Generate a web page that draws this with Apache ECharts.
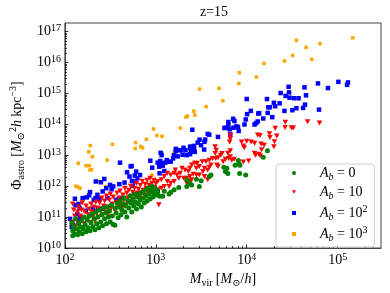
<!DOCTYPE html>
<html><head><meta charset="utf-8">
<script src="https://cdn.jsdelivr.net/npm/echarts@6/dist/echarts.min.js"></script>
<style>html,body{margin:0;padding:0;background:#fff}#c{width:390px;height:293px}</style>
</head><body><div id="c"></div>
<script>
// ---------- data ----------
const seriesNames = ['Ab0', 'Ab10', 'Ab100', 'Ab1000'];

const massAb0 = [1.69e4,1.52e4,8.07e3,8.21e3,7.45e3,8.42e3,6.05e3,6.2e3,5.6e3,5.83e3,8.35e3,9.75e3,4.04e3,3.88e3,3.16e3,2.8e3,2.19e3,2.37e3,3.01e3,2.48e3,2.19e3,1.79e3,1.59e3,1.46e3,1.4e3,1.24e3,1.05e3,1.1e3,1.19e3,
119,122,125,128,131,134,138,141,144,148,122,152,155,159,163,167,171,176,180,185,189,194,199,203,209,214,219,224,230,236,241,247,254,260,266,273,280,287,294,301,309,316,324,332,340,355,357,366,375,385,394,404,414,424,435,446,457,468,480,492,504,517,529,543,556,570,584,598,613,628,644,660,676,693,710,728,746,764,783,803,822,843,864,885,907,930,953,976,1000,1025];
const phiAb0 = [1.39e13,8.6e12,6.8e12,5.3e12,4.71e12,4.71e12,3.78e12,2.55e12,4.07e12,2.96e12,2.55e12,2.3e12,2.3e12,2.05e12,1.5e12,1.68e12,1.6e12,1.25e12,9.8e11,1.1e12,9.8e11,9.1e11,7.6e11,6.42e11,5.54e11,6.8e11,5.97e11,4.68e11,4.68e11,
6.5e10,3.6e10,4.85e10,2.89e10,8.8e10,4.19e10,2.69e10,6.05e10,3.36e10,4.85e10,2.5e10,7.56e10,2.89e10,4.19e10,1.015e11,5.6e10,3.36e10,8.1e10,4.5e10,1.09e11,3.6e10,6.5e10,1.27e11,4.85e10,8.8e10,3.9e10,1.47e11,6.05e10,1.015e11,4.5e10,1.7e11,7.0e10,1.18e11,5.2e10,1.97e11,8.8e10,1.36e11,6.05e10,2.12e11,1.015e11,1.58e11,7.0e10,2.46e11,1.09e11,5.8e10,5.4e10,1.97e11,1.36e11,2.85e11,9.45e10,2.12e11,3.3e11,1.18e11,1.7e11,2.65e11,4.12e11,1.47e11,2.29e11,1.015e11,3.3e11,1.97e11,4.78e11,2.85e11,1.47e11,3.83e11,2.29e11,5.54e11,3.07e11,1.83e11,4.44e11,2.65e11,5.54e11,3.56e11,2.12e11,6.42e11,4.12e11,2.85e11,7.45e11,4.78e11,3.3e11,8.63e11,5.54e11,3.83e11,6.92e11,1.0e12,4.44e11,6.42e11,8.63e11,5.15e11,7.45e11];

const massAb10 = [6.32e4,4.67e4,2.66e4,2.06e4,2.64e4,3.1e4,3.25e4,1.32e4,1.4e4,1.78e4,1.8e4,2.14e4,2.02e4,1.44e4,1.46e4,1.36e4,1.22e4,1.22e4,8.77e3,1.0e4,1.12e4,6.59e3,6.59e3,6.49e3,9.17e3,9.4e3,1.55e4,1.99e4,1.05e4,9.17e3,1.25e4,1.41e4,4.49e3,4.62e3,4.49e3,6.59e3,6.2e3,5.35e3,5.16e3,4.83e3,4.56e3,4.21e3,3.88e3,3.57e3,5.83e3,6.32e3,6.85e3,6.59e3,7.27e3,8.07e3,5.5e3,4.7e3,4.83e3,4.04e3,3.88e3,3.72e3,3.43e3,3.3e3,3.01e3,2.8e3,2.85e3,2.68e3,2.48e3,2.37e3,2.28e3,2.1e3,1.94e3,1.85e3,1.71e3,1.64e3,1.59e3,1.46e3,1.34e3,1.24e3,1.15e3,1.05e3,3.72e3,3.43e3,3.01e3,2.8e3,2.58e3,2.37e3,2.19e3,2.02e3,1.79e3,1.59e3,1.46e3,1.34e3,1.4e3,1.24e3,1.15e3,1.05e3,1.08e3,2.48e3,2.37e3,2.19e3,3.24e3,
122,125,128,122,131,134,138,141,144,148,125,138,152,155,159,163,167,171,176,180,185,189,155,194,199,203,209,214,219,224,230,236,241,247,254,260,266,273,280,287,294,301,309,316,324,332,340,357,366,375,385,394,404,414,424,435,446,457,468,480,492,504,517,529,543,556,570,584,598,613,628,644,660,676,693,710,728,746,764,783,803,822,843,864,885,907,930,953,976,1000,1025];
const phiAb10 = [1.1e14,1.21e14,1.17e14,7.5e13,7.96e13,7.8e13,7.6e13,4.5e13,4.38e13,5.0e13,3.73e13,4.2e13,2.72e13,2.32e13,1.5e13,1.08e13,2.45e13,1.17e13,2.71e13,2.83e13,2.67e13,4.42e13,3.4e13,2.67e13,2.0e13,1.74e13,2.1e13,1.88e13,6.5e12,6.1e12,1.0e13,9.6e12,1.88e13,1.46e13,1.14e13,1.39e13,1.17e13,1.14e13,1.0e13,8.3e12,7.9e12,7.9e12,6.96e12,6.18e12,7.5e12,7.9e12,6.96e12,8.94e12,7.5e12,6.18e12,6.18e12,4.85e12,4.3e12,4.85e12,4.07e12,3.34e12,3.78e12,2.96e12,4.3e12,3.78e12,5.47e12,5.47e12,4.85e12,3.78e12,2.96e12,3.34e12,3.78e12,2.61e12,2.3e12,3.34e12,2.61e12,2.3e12,2.61e12,2.05e12,1.6e12,1.42e12,1.6e12,2.05e12,2.3e12,2.3e12,2.43e12,2.05e12,1.81e12,1.81e12,1.81e12,1.42e12,1.25e12,1.42e12,9.8e11,9.8e11,8.63e11,7.6e11,2.5e11,1.6e12,1.42e12,1.25e12,6.18e12,
2.65e11,1.7e11,1.09e11,7.0e10,5.2e10,8.1e10,1.47e11,2.12e11,6.05e10,1.09e11,4.19e10,3.9e10,1.7e11,2.85e11,9.45e10,6.05e10,1.47e11,2.29e11,8.1e10,1.18e11,1.83e11,6.5e10,4.5e10,2.65e11,1.47e11,1.015e11,2.12e11,7.56e10,3.07e11,1.36e11,1.97e11,1.015e11,2.85e11,1.7e11,4.12e11,1.18e11,2.29e11,3.3e11,1.47e11,4.78e11,2.12e11,1.27e11,3.56e11,5.54e11,1.97e11,2.65e11,4.44e11,1.58e11,3.07e11,5.97e11,2.29e11,4.12e11,6.92e11,2.65e11,1.97e11,5.15e11,3.56e11,8.63e11,2.46e11,5.97e11,4.12e11,7.45e11,3.07e11,1.0e12,4.78e11,6.42e11,2.65e11,8.63e11,4.44e11,1.25e12,5.97e11,8.02e11,4.12e11,1.08e12,5.97e11,1.45e12,7.45e11,5.15e11,1.16e12,8.63e11,1.56e12,6.42e11,1.08e12,1.81e12,8.02e11,1.25e12,5.54e11,1.56e12,9.3e11,1.25e12,6.92e11];

const massAb100 = [1.02e5,1.30e5,1.27e5,6.08e4,7.83e4,2.89e4,4.32e4,2.36e4,2.92e4,2.68e4,2.96e4,3.32e4,3.72e4,4.49e4,1.0e4,1.67e4,1.99e4,2.30e4,1.73e4,1.79e4,2.05e4,4.38e4,4.17e4,3.52e4,2.60e4,3.18e4,6.24e4,1.11e4,1.01e4,1.70e4,1.34e4,1.37e4,1.91e4,7.10e3,9.75e3,7.33e3,1.52e4,6.28e3,5.88e3,6.28e3,5.69e3,1.32e4,1.27e4,1.22e4,9.45e3,7.69e3,8.02e3,7.15e3,8.16e3,6.48e3,6.59e3,4.83e3,3.72e3,3.87e3,2.52e3,3.03e3,3.49e3,3.43e3,2.89e3,3.14e3,2.62e3,2.40e3,2.38e3,2.64e3,3.40e3,2.02e3,1.89e3,2.12e3,1.79e3,1.66e3,1.66e3,2.68e3,2.43e3,2.38e3,2.19e3,1.97e3,1.74e3,1.58e3,1.55e3,1.32e3,1.36e3,1.46e3,1.27e3,1.18e3,1.05e3,1.12e3,1.19e3,1.09e3,1.10e3,1.24e3,1.05e3,1.13e3,1.16e3,870,914,404,542,483,513,587,671,628,546,453,397,271,249,314,340,326,285,260,228,189,185,174,157,129,141,131,145,217,208,240,294,369,401,205,255,137,147,141,529,608,219,114,121,119,593,556,170,232];
const phiAb100 = [2.37e15,2.27e15,1.90e15,2.11e15,1.49e15,1.64e15,1.57e15,1.03e15,1.08e15,8.3e14,7.3e14,7.0e14,7.0e14,8.7e14,6.6e14,6.6e14,5.0e14,4.8e14,3.58e14,3.58e14,3.86e14,4.34e14,3.40e14,3.33e14,2.73e14,2.87e14,3.0e14,2.73e14,2.14e14,2.35e14,2.23e14,2.30e14,1.71e14,1.51e14,1.44e14,1.28e14,1.55e14,1.19e14,7.8e13,9.2e13,7.6e13,1.24e14,1.10e14,9.9e13,9.9e13,8.6e13,8.2e13,7.8e13,6.1e13,6.9e13,4.74e13,3.92e13,4.89e13,4.64e13,6.7e13,3.21e13,3.21e13,2.71e13,2.57e13,2.11e13,2.01e13,1.91e13,1.74e13,1.74e13,1.53e13,1.74e13,1.46e13,1.46e13,1.46e13,1.61e13,1.35e13,1.29e13,1.29e13,1.08e13,1.01e13,1.04e13,9.2e12,9.9e12,7.9e12,6.97e12,6.2e12,6.2e12,5.75e12,5.46e12,5.75e12,6.5e12,4.6e12,4.28e12,2.61e12,3.09e12,6.76e11,1.20e13,1.01e13,6.67e12,3.97e12,5.75e12,4.48e12,2.81e12,2.05e12,2.20e12,2.30e12,1.80e12,1.48e12,1.31e12,1.16e12,1.71e12,1.34e12,1.10e12,9.8e11,8.0e11,8.6e11,6.76e11,5.26e11,6.43e11,5.04e11,4.35e11,4.12e11,3.92e11,2.65e11,2.40e11,1.97e11,4.12e11,3.56e11,3.92e11,4.12e11,3.64e11,4.12e11,1.87e11,1.87e11,1.24e11,9.4e10,7.0e10,4.38e12,2.96e12,1.42e12,8.75e10,6.05e10,4.85e10,1.42e12,1.02e12,1.61e11,1.79e11];

const massAb1000 = [1.47e5,3.52e4,6.4e4,4.5e4,3.2e4,5.2e4,2.6e4,1.55e4,8.3e3,1.28e4,8.2e3,4.95e3,3.03e3,5.46e3,3.57e3,2.62e3,2.23e3,2.15e3,2.69e3,1.86e3,946,1.03e3,1.17e3,788,598,681,714,334,190,593,140,183,200,171,185,197,189,292,132,138,147,158,154,232,284,404,906,1.58e3,1.16e3];
const phiAb1000 = [6.3e16,5.2e16,4.1e16,3.1e16,1.7e16,1.27e16,1.12e16,9.4e15,4.7e15,3.4e15,2.1e15,1.46e15,1.38e15,5.8e14,3.75e14,2.67e14,1.85e14,1.71e14,1.99e14,7.6e13,7.1e13,4.4e13,4.1e13,3.3e13,2.57e13,1.91e13,1.74e13,2.27e13,2.06e13,1.65e13,5.5e12,1.3e13,8.95e12,4.6e12,4.6e12,3.43e12,3.33e12,6.97e12,1.0e12,9.5e11,8.6e11,3.83e11,3.56e11,1.42e12,9.8e11,5.75e12,2.3e12,1.2e13,1.14e13];

const xMajorTicks = [1e2, 1e3, 1e4, 1e5];
const yMajorTicks = [1e10, 1e11, 1e12, 1e13, 1e14, 1e15, 1e16, 1e17];
const xRange = [1e2, 3e5];
const yRange = [1e10, 1.9e17];

// ---------- build ----------
const FONT = "'Liberation Serif','DejaVu Serif',serif";
function minorTicks(lo, hi) {
  const out = [];
  for (let e = Math.floor(Math.log10(lo)); e <= Math.ceil(Math.log10(hi)); e++) {
    for (let m = 2; m <= 9; m++) { const v = m * Math.pow(10, e); if (v > lo && v < hi) out.push(v); }
  }
  return out;
}
function zip(a, b) { return a.map((v, i) => [v, b[i]]); }
const powRich = {
  b: { fontSize: 14, fontFamily: FONT, color: '#000', lineHeight: 16 },
  s: { fontSize: 10, fontFamily: FONT, color: '#000', lineHeight: 10, verticalAlign: 'top' }
};
function powLabel(v) { return '{b|10}{s|' + Math.round(Math.log10(v)) + '}'; }
const nameRich = {
  n: { fontSize: 14, fontFamily: FONT, color: '#000', lineHeight: 18 },
  i: { fontSize: 14, fontFamily: FONT, fontStyle: 'italic', color: '#000', lineHeight: 18 },
  sub: { fontSize: 10, fontFamily: FONT, color: '#000', lineHeight: 10, verticalAlign: 'bottom' },
  subi: { fontSize: 10, fontFamily: FONT, fontStyle: 'italic', color: '#000', lineHeight: 10, verticalAlign: 'bottom' },
  sup: { fontSize: 10, fontFamily: FONT, color: '#000', lineHeight: 10, verticalAlign: 'top' },
  sp: { width: 19 }
};
const legendText = {
  Ab0: '{sp| }{i|A}{subi|b}{n| = 0}',
  Ab10: '{sp| }{i|A}{subi|b}{n| = 10}',
  Ab100: '{sp| }{i|A}{subi|b}{n| = 10}{sup|2}',
  Ab1000: '{sp| }{i|A}{subi|b}{n| = 10}{sup|3}'
};
const tickLine = { color: '#000', width: 0.8 };
const frame = '#444';
const DOWN_TRI = 'path://M0,0L10,0L5,9Z';

const chart = echarts.init(document.getElementById('c'), null, { renderer: 'canvas' });
chart.setOption({
  animation: false,
  backgroundColor: '#fff',
  title: { text: 'z=15', left: 200, top: 5, padding: 0,
    textStyle: { fontFamily: FONT, fontSize: 14, fontWeight: 'normal', color: '#000' } },
  grid: { left: 54, right: 9, top: 23, bottom: 43, show: true, borderColor: frame, borderWidth: 1, backgroundColor: 'transparent' },
  legend: {
    data: seriesNames, orient: 'vertical', left: 276, top: 164,
    itemWidth: 4, itemHeight: 4, itemGap: 3, padding: [2, 7, 4, 16],
    borderColor: '#ccc', borderWidth: 1, borderRadius: 3, backgroundColor: 'rgba(255,255,255,0.85)', z: 10,
    formatter: n => legendText[n],
    textStyle: { rich: nameRich }
  },
  xAxis: [
    { type: 'log', logBase: 10, min: xRange[0], max: xRange[1],
      name: '{i|M}{sub|vir} {n|[}{i|M}{sub|⊙}{n|/}{i|h}{n|]}', nameLocation: 'middle', nameGap: 22,
      nameTextStyle: { rich: nameRich },
      axisLine: { show: true, lineStyle: { color: frame, width: 1 } },
      axisTick: { inside: true, length: 3.5, lineStyle: tickLine, customValues: xMajorTicks },
      axisLabel: { customValues: xMajorTicks, formatter: powLabel, margin: 4, rich: powRich,
        alignMinLabel: 'center', alignMaxLabel: 'center', hideOverlap: false },
      splitLine: { show: false } },
    { type: 'log', logBase: 10, min: xRange[0], max: xRange[1], position: 'bottom',
      axisLine: { show: false },
      axisTick: { inside: true, length: 2, lineStyle: tickLine, customValues: minorTicks(xRange[0], xRange[1]) },
      axisLabel: { show: false }, splitLine: { show: false } }
  ],
  yAxis: [
    { type: 'log', logBase: 10, min: yRange[0], max: yRange[1],
      name: '{n|Φ}{sub|astro} {n|[}{i|M}{sub|⊙}{sup|2}{i|h} {n|kpc}{sup|−3}{n|]}', nameLocation: 'middle', nameGap: 38,
      nameTextStyle: { rich: nameRich },
      axisLine: { show: true, lineStyle: { color: frame, width: 1 } },
      axisTick: { inside: true, length: 3.5, lineStyle: tickLine, customValues: yMajorTicks },
      axisLabel: { customValues: yMajorTicks, formatter: powLabel, margin: 4, rich: powRich,
        verticalAlignMinLabel: 'middle', verticalAlignMaxLabel: 'middle', hideOverlap: false },
      splitLine: { show: false } },
    { type: 'log', logBase: 10, min: yRange[0], max: yRange[1], position: 'left',
      axisLine: { show: false },
      axisTick: { inside: true, length: 2, lineStyle: tickLine, customValues: minorTicks(yRange[0], yRange[1]) },
      axisLabel: { show: false }, splitLine: { show: false } }
  ],
  series: [
    { name: 'Ab0', type: 'scatter', z: 5, symbol: 'circle', symbolSize: 5,
      itemStyle: { color: '#008000', opacity: 1 }, data: zip(massAb0, phiAb0) },
    { name: 'Ab10', type: 'scatter', z: 4, symbol: DOWN_TRI, symbolSize: [5.5, 5],
      itemStyle: { color: '#ff0000', opacity: 1 }, data: zip(massAb10, phiAb10) },
    { name: 'Ab100', type: 'scatter', z: 3, symbol: 'rect', symbolSize: 4.5,
      itemStyle: { color: '#0000ff', opacity: 1 }, data: zip(massAb100, phiAb100) },
    { name: 'Ab1000', type: 'scatter', z: 2, symbol: 'rect', symbolSize: 3.5,
      itemStyle: { color: '#ffa500', opacity: 1 }, data: zip(massAb1000, phiAb1000) }
  ]
});
</script></body></html>
